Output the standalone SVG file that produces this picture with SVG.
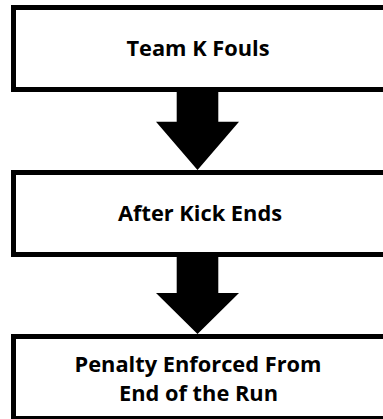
<svg xmlns="http://www.w3.org/2000/svg" width="383" height="419" viewBox="0 0 383 419">
<style>
.box{fill:#fff;stroke:#000;stroke-width:5}
.lbl{font-family:"Open Sans","Liberation Sans",sans-serif;font-weight:700;font-size:21.8px;fill:#000;text-anchor:middle}
.arr{fill:#000;stroke:none}
</style>
<rect width="383" height="419" fill="#fff"/>
<g id="connectors">
<polygon class="arr" points="176.7,88 218.3,88 218.3,121.7 239,121.7 197.5,170 156,121.7 176.7,121.7"/>
<polygon class="arr" points="176.7,254 218.3,254 218.3,293 239,293 197.5,334 156,293 176.7,293"/>
</g>
<g id="node1">
<rect class="box" x="13.5" y="7.5" width="400" height="82"/>
<text class="lbl" x="198" y="56">Team K Fouls</text>
</g>
<g id="node2">
<rect class="box" x="13.5" y="172.5" width="400" height="82"/>
<text class="lbl" x="200" y="221">After Kick Ends</text>
</g>
<g id="node3">
<rect class="box" x="13.5" y="336.5" width="400" height="82"/>
<text class="lbl" x="198" y="372">Penalty Enforced From</text>
<text class="lbl" x="198.5" y="401">End of the Run</text>
</g>
</svg>
